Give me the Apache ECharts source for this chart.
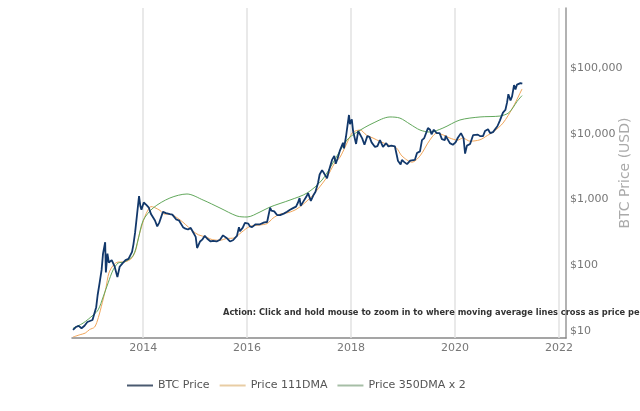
<!DOCTYPE html>
<html>
<head>
<meta charset="utf-8">
<script src="https://cdn.jsdelivr.net/npm/echarts@6/dist/echarts.min.js"></script>
<style>
html,body{margin:0;padding:0;background:#fff;}
#chart{width:640px;height:411px;}
</style>
</head>
<body>
<div id="chart"></div>
<script>
// ---- data ----
const btcDates = ['2012-08-26','2012-09-15','2012-10-05','2012-10-25','2012-11-15','2012-12-05','2013-01-10','2013-02-05','2013-02-15','2013-03-01','2013-03-15','2013-03-25','2013-04-09','2013-04-14','2013-04-25','2013-05-05','2013-05-25','2013-06-15','2013-07-04','2013-07-20','2013-08-10','2013-08-30','2013-09-20','2013-10-15','2013-10-25','2013-11-05','2013-11-15','2013-12-03','2013-12-12','2013-12-20','2014-01-05','2014-01-25','2014-02-10','2014-02-25','2014-03-10','2014-03-25','2014-04-10','2014-04-25','2014-05-20','2014-06-10','2014-07-08','2014-07-25','2014-08-20','2014-09-10','2014-10-08','2014-10-25','2014-11-12','2014-12-01','2014-12-17','2015-01-05','2015-01-15','2015-02-05','2015-02-20','2015-03-10','2015-03-26','2015-04-20','2015-05-07','2015-06-01','2015-06-25','2015-07-16','2015-08-10','2015-09-03','2015-09-24','2015-10-22','2015-11-05','2015-11-12','2015-12-01','2015-12-17','2016-01-10','2016-01-21','2016-02-05','2016-03-01','2016-04-01','2016-05-01','2016-05-21','2016-06-11','2016-06-20','2016-07-10','2016-07-30','2016-08-20','2016-09-15','2016-10-08','2016-10-29','2016-11-19','2016-12-10','2016-12-24','2017-01-04','2017-01-12','2017-01-29','2017-02-20','2017-03-05','2017-03-24','2017-04-10','2017-04-25','2017-05-14','2017-05-25','2017-06-11','2017-06-25','2017-07-16','2017-07-28','2017-08-20','2017-09-05','2017-09-15','2017-09-28','2017-10-15','2017-11-05','2017-11-12','2017-11-26','2017-12-10','2017-12-17','2017-12-24','2018-01-06','2018-01-15','2018-01-25','2018-02-05','2018-02-20','2018-03-05','2018-03-20','2018-04-05','2018-04-25','2018-05-10','2018-05-25','2018-06-18','2018-07-05','2018-07-23','2018-08-13','2018-09-05','2018-09-20','2018-10-10','2018-11-05','2018-11-20','2018-11-26','2018-12-15','2018-12-24','2019-01-10','2019-01-29','2019-02-20','2019-03-05','2019-03-25','2019-04-09','2019-04-30','2019-05-14','2019-05-30','2019-06-25','2019-07-10','2019-07-20','2019-08-05','2019-08-26','2019-09-15','2019-10-01','2019-10-22','2019-10-27','2019-11-26','2019-12-17','2020-01-05','2020-01-21','2020-02-12','2020-03-01','2020-03-12','2020-03-25','2020-04-16','2020-05-07','2020-05-21','2020-06-10','2020-06-25','2020-07-16','2020-07-30','2020-08-20','2020-09-05','2020-09-24','2020-10-08','2020-10-25','2020-11-12','2020-12-03','2020-12-20','2021-01-01','2021-01-10','2021-01-25','2021-02-05','2021-02-19','2021-03-01','2021-03-12','2021-03-25','2021-04-05','2021-04-14','2021-04-18'];
const btcPrices = [10.4,11.5,12.0,11.0,12.0,13.7,14.7,23,35,54,85,150,224,78,150,110,120,95,66,95,108,120,125,160,210,310,490,1130,800,700,900,820,750,600,580,480,390,450,650,620,600,590,500,480,380,360,350,370,320,270,183,230,245,280,255,230,235,230,245,285,260,230,240,280,380,330,370,440,430,390,380,420,420,450,455,750,680,660,580,580,610,650,700,740,780,900,1050,800,920,1100,1250,950,1150,1300,1800,2400,2800,2500,2100,2700,4000,4600,3500,4200,5600,7300,6000,9000,15000,19300,14000,16500,11000,11000,7000,11000,11200,8500,6800,9200,9000,7400,6300,6500,8000,6300,7200,6400,6600,6400,4500,3900,3400,4000,3700,3450,3900,3850,4000,5100,5400,8000,8600,12200,11500,9800,11500,10200,10200,8300,8000,9300,7200,6800,7400,8700,10200,8600,5000,6600,7000,9500,9200,9700,9200,9200,11000,11700,10200,10600,10900,13000,16000,21000,23000,30000,40000,32000,37000,55000,47000,56000,53000,59000,62000,58000];

const dma111Dates = ['2012-08-26','2012-10-15','2012-11-20','2012-12-20','2013-01-25','2013-02-20','2013-03-20','2013-04-15','2013-05-05','2013-06-05','2013-07-10','2013-08-15','2013-09-20','2013-10-15','2013-11-10','2013-11-30','2013-12-20','2014-01-10','2014-02-05','2014-02-25','2014-03-20','2014-04-30','2014-06-01','2014-07-08','2014-08-26','2014-10-08','2014-11-15','2014-12-17','2015-01-25','2015-03-26','2015-05-01','2015-06-25','2015-08-10','2015-10-01','2015-11-25','2016-01-21','2016-04-01','2016-05-21','2016-07-01','2016-08-20','2016-10-15','2016-12-17','2017-03-19','2017-05-14','2017-07-16','2017-09-05','2017-10-15','2017-11-20','2017-12-24','2018-01-15','2018-03-05','2018-04-20','2018-06-04','2018-07-25','2018-09-25','2018-11-15','2018-12-24','2019-03-05','2019-04-30','2019-07-08','2019-08-26','2019-10-15','2019-11-26','2020-01-20','2020-02-25','2020-04-16','2020-06-25','2020-08-15','2020-09-24','2020-12-03','2021-02-12','2021-04-16'];
const dma111Values = [8.1,8.8,9.3,10.5,11.5,16,27,46,76,100,112,112,118,130,170,270,380,530,700,780,760,680,600,600,530,450,380,330,290,265,245,240,255,260,320,390,410,430,520,600,630,720,1050,1450,2200,3500,4400,6300,9000,10600,11400,9500,8600,7600,6700,6100,4600,3700,4600,8000,10200,9500,8600,8000,8600,7700,8100,9400,10600,14500,25500,48000];

const dma350Dates = ['2012-08-26','2012-11-05','2013-01-15','2013-02-19','2013-03-26','2013-04-30','2013-06-04','2013-07-09','2013-08-20','2013-10-22','2013-11-26','2014-01-01','2014-03-12','2014-07-08','2014-11-05','2015-02-26','2015-06-25','2015-10-22','2016-01-01','2016-04-01','2016-06-11','2016-10-29','2017-02-26','2017-06-11','2017-08-26','2017-12-03','2018-02-12','2018-06-04','2018-10-01','2018-12-10','2019-02-19','2019-04-30','2019-07-08','2019-10-08','2020-02-05','2020-06-25','2020-11-12','2021-01-08','2021-02-12','2021-03-12','2021-04-16'];
const dma350Values = [11,13.2,17.5,21,33,54,85,108,112,140,242,480,743,1054,1213,982,743,561,542,646,769,982,1256,1980,3592,8027,10600,14500,18000,17300,14000,11400,10600,12200,16200,18000,18600,20500,25000,31000,38000];

const seriesNames = ['BTC Price','Price 111DMA','Price 350DMA x 2'];
const yearTicks = [2014, 2016, 2018, 2020, 2022];
const priceTicks = [10, 100, 1000, 10000, 100000];
const noteText = 'Action: Click and hold mouse to zoom in to where moving average lines cross as price peaks';

// ---- build ----
const zip = (d, v) => d.map((x, i) => [x, v[i]]);
const FONT = '"DejaVu Sans", Verdana, sans-serif';
const chart = echarts.init(document.getElementById('chart'), null, {renderer: 'canvas'});
const YEAR_MS = 365.25 * 24 * 3600 * 1000;

chart.setOption({
  animation: false,
  backgroundColor: '#ffffff',
  grid: {left: 72, right: 74, top: 8, bottom: 73, containLabel: false, outerBoundsMode: 'none'},
  legend: {
    left: 122, top: 375,
    itemWidth: 26, itemHeight: 2, itemGap: 10,
    icon: 'rect',
    textStyle: {color: '#555', fontSize: 11, fontFamily: FONT},
    data: [
      {name: seriesNames[0], itemStyle: {color: '#4a5a70'}},
      {name: seriesNames[1], itemStyle: {color: '#e8cda4'}},
      {name: seriesNames[2], itemStyle: {color: '#a6bea6'}}
    ]
  },
  xAxis: {
    type: 'time',
    min: '2012-08-19',
    max: '2022-02-19',
    minInterval: YEAR_MS,
    maxInterval: YEAR_MS,
    axisLine: {show: true, lineStyle: {color: '#888', width: 1.5}},
    axisTick: {show: false},
    splitLine: {show: false},
    axisLabel: {
      color: '#777', fontSize: 11, fontFamily: FONT, margin: 5,
      showMinLabel: false, showMaxLabel: false, hideOverlap: false,
      formatter: v => {
        const d = new Date(v);
        const y = d.getFullYear();
        return (d.getMonth() === 0 && d.getDate() === 1 && yearTicks.indexOf(y) >= 0) ? String(y) : '';
      }
    }
  },
  yAxis: {
    type: 'log',
    position: 'right',
    logBase: 10,
    min: 7.83,
    max: 817500,
    name: 'BTC Price (USD)',
    nameLocation: 'middle',
    nameRotate: 90,
    nameGap: 52,
    nameMoveOverlap: false,
    nameTextStyle: {color: '#aaa', fontSize: 14, fontFamily: FONT},
    axisLine: {show: true, lineStyle: {color: '#999', width: 1.5}},
    axisTick: {show: false},
    splitLine: {show: false},
    axisLabel: {
      color: '#777', fontSize: 11, fontFamily: FONT, margin: 4,
      showMinLabel: false, showMaxLabel: false,
      formatter: v => {
        const r = Math.round(v);
        return priceTicks.indexOf(r) >= 0 ? '$' + r.toLocaleString('en-US') : '';
      }
    }
  },
  graphic: [{
    type: 'text', left: 223, top: 309, z: 100,
    style: {text: noteText, fill: '#333', font: 'bold 8.3px ' + FONT}
  }],
  series: [
    {name: seriesNames[0], type: 'line', data: zip(btcDates, btcPrices), showSymbol: false, symbol: 'none', z: 4,
     lineStyle: {color: '#12386b', width: 1.8}, itemStyle: {color: '#12386b'},
     markLine: {
       silent: true, symbol: 'none', z: 1,
       lineStyle: {color: '#e2e2e2', width: 1.5, type: 'solid'},
       label: {show: false},
       data: yearTicks.map(y => ({xAxis: new Date(y, 0, 1).getTime()}))
     }},
    {name: seriesNames[1], type: 'line', data: zip(dma111Dates, dma111Values), showSymbol: false, symbol: 'none', smooth: 0.3, z: 3,
     lineStyle: {color: '#f0a55a', width: 1}, itemStyle: {color: '#f0a55a'}},
    {name: seriesNames[2], type: 'line', data: zip(dma350Dates, dma350Values), showSymbol: false, symbol: 'none', smooth: 0.3, z: 3,
     lineStyle: {color: '#62a85c', width: 1}, itemStyle: {color: '#62a85c'}}
  ]
});
</script>
</body>
</html>
